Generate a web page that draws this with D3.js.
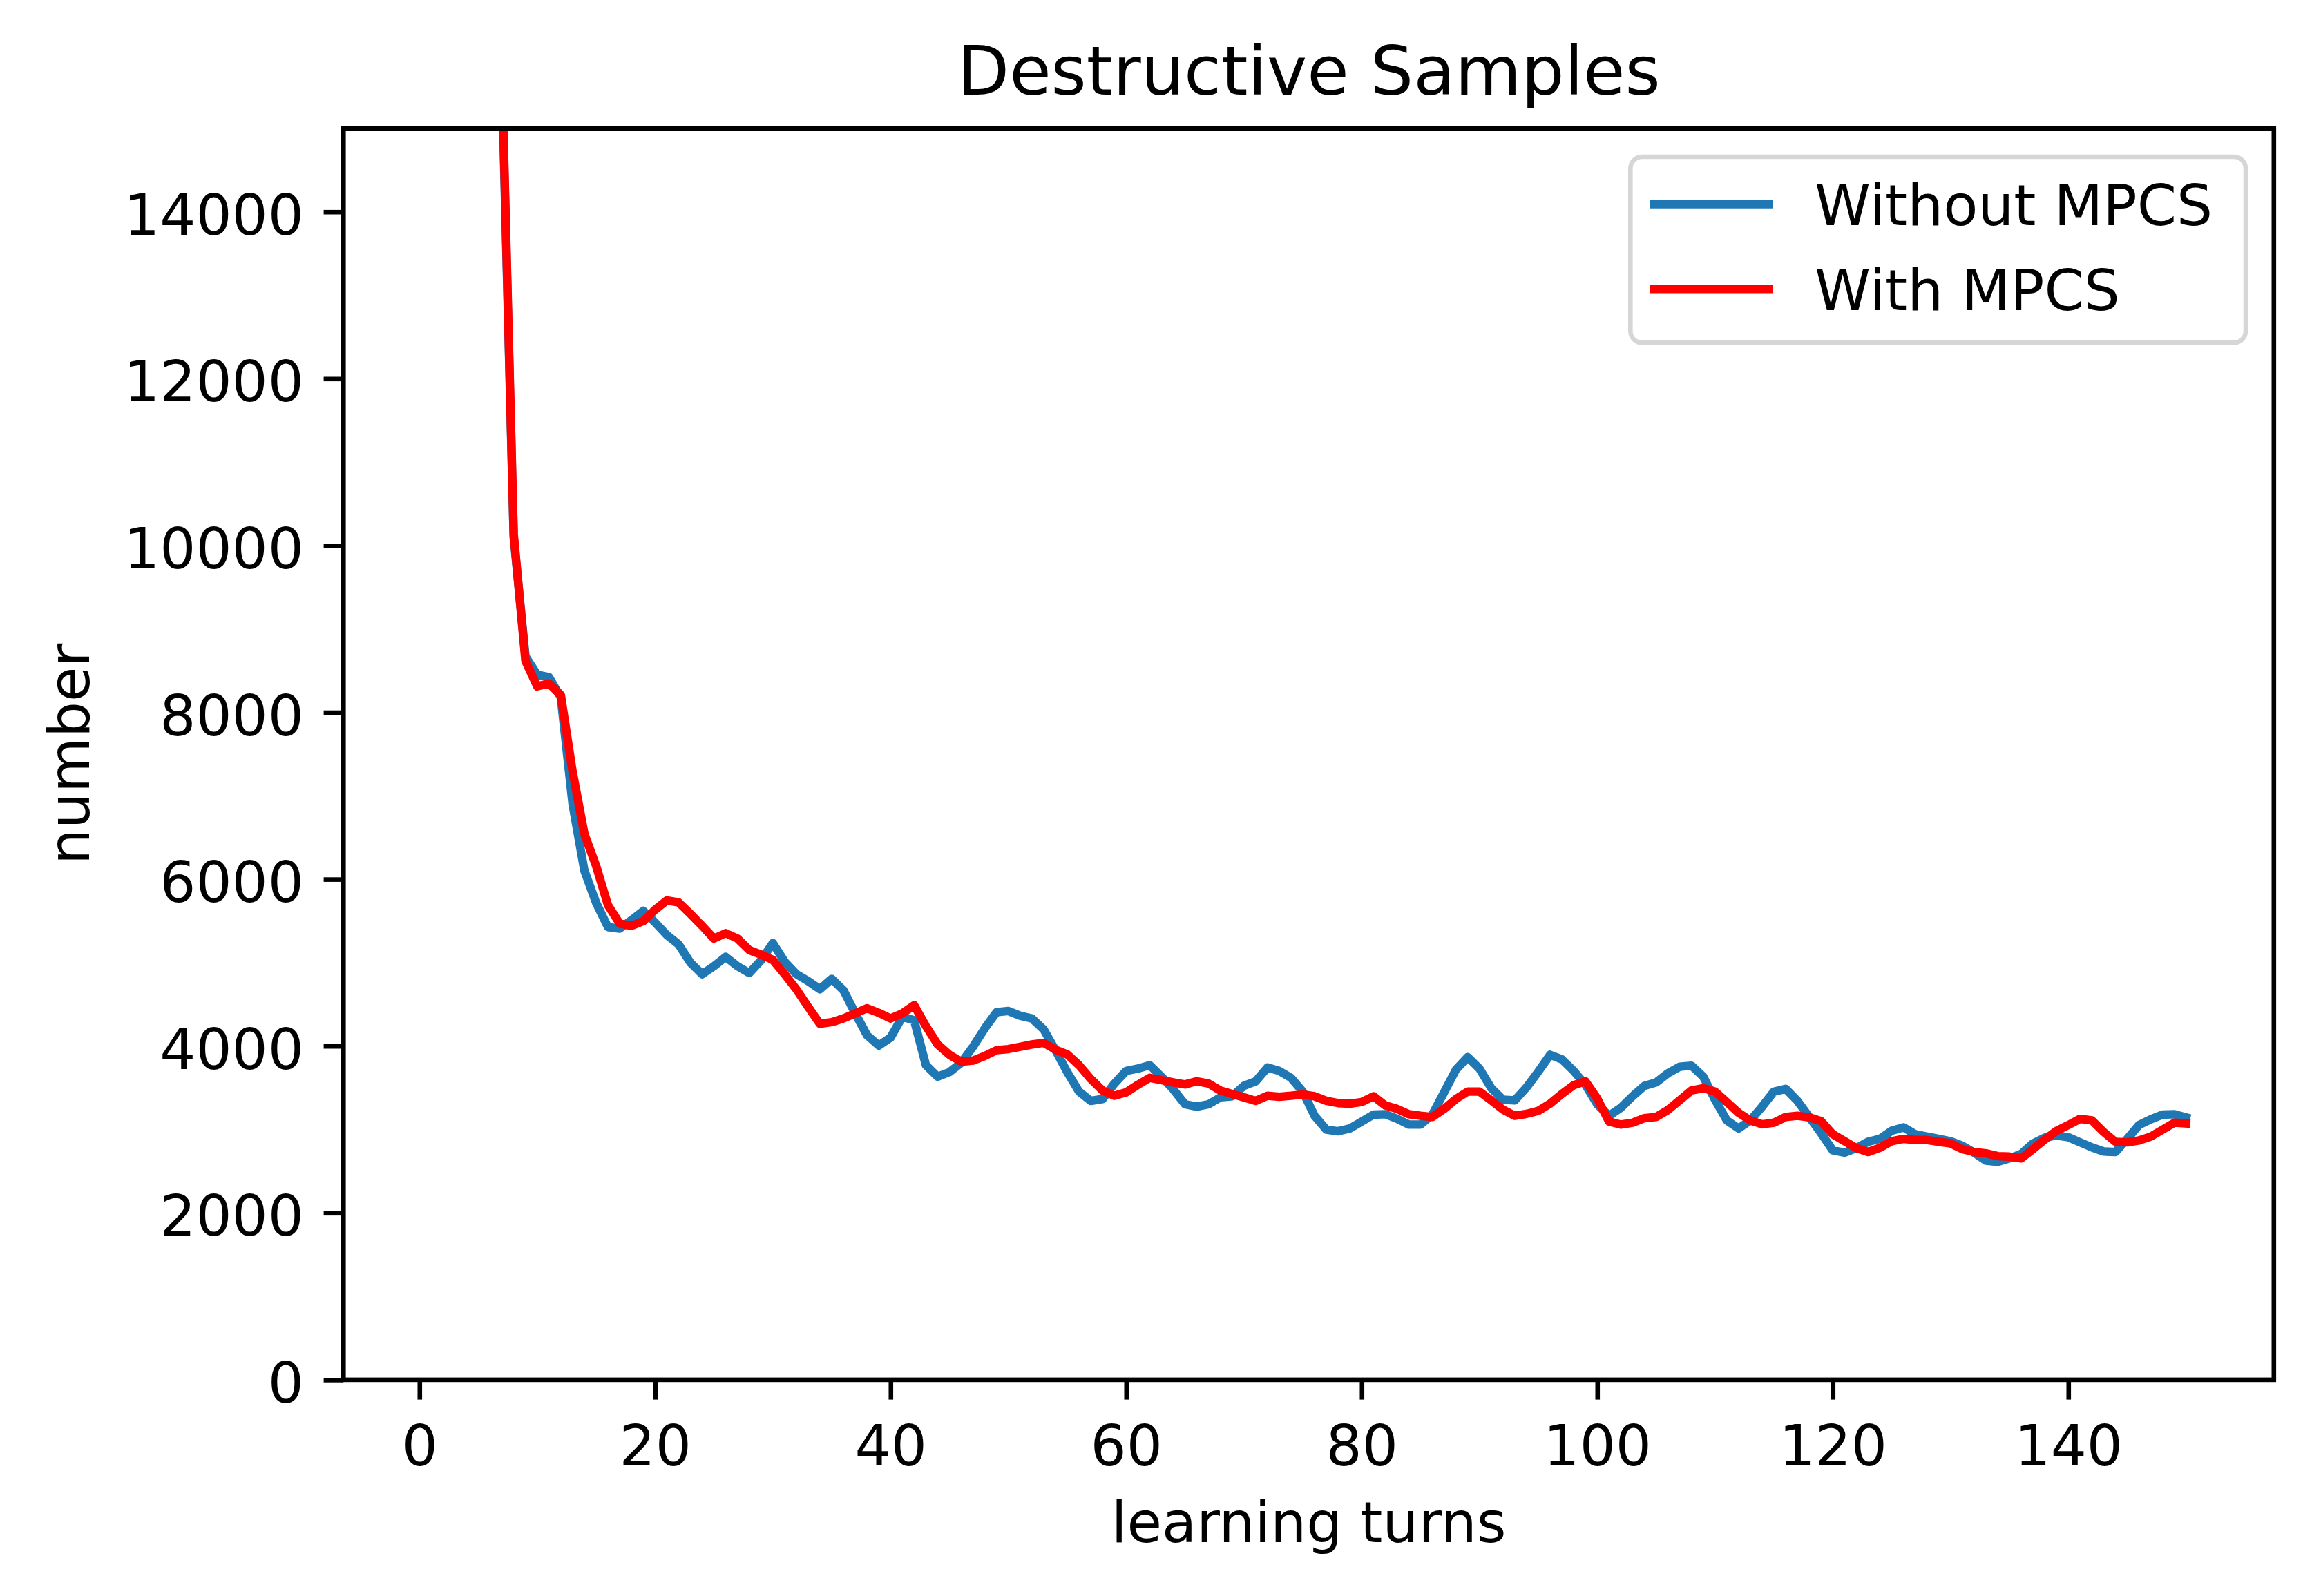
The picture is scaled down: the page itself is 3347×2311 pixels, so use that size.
<!DOCTYPE html>
<html>
<head>
<meta charset="utf-8">
<script src="https://cdn.jsdelivr.net/npm/d3@7"></script>
<style>
  html, body { margin: 0; padding: 0; background: #fff; }
  svg text { font-family: 'DejaVu Sans', sans-serif; fill: #000; }
</style>
</head>
<body>
<svg id="chart" width="3347" height="2311"></svg>
<script>
// learning turns 1..150
const turns = d3.range(1, 151);

// Without MPCS (first few turns are far above the visible range)
const withoutMPCS = [
  93000, 61000, 41000, 29500, 22500, 18200, 15600, 10100, 8670, 8450,
  8422, 8180, 6900, 6104, 5717, 5427, 5408, 5510, 5620, 5482,
  5331, 5220, 5000, 4862, 4958, 5069, 4958, 4875, 5027, 5234,
  5013, 4862, 4779, 4682, 4806, 4668, 4392, 4130, 4006, 4102,
  4351, 4309, 3771, 3633, 3688, 3799, 3992, 4213, 4406, 4420,
  4364, 4331, 4199, 3950, 3688, 3454, 3343, 3365, 3550, 3702,
  3730, 3771, 3633, 3481, 3302, 3274, 3302, 3385, 3398, 3523,
  3578, 3743, 3702, 3619, 3454, 3164, 2998, 2979, 3012, 3095,
  3178, 3183, 3128, 3059, 3059, 3178, 3445, 3716, 3868, 3730,
  3495, 3357, 3349, 3505, 3695, 3895, 3840, 3702, 3536, 3302,
  3164, 3260, 3398, 3523, 3564, 3674, 3752, 3765, 3633, 3357,
  3109, 3012, 3109, 3274, 3454, 3487, 3343, 3150, 2957, 2750,
  2722, 2777, 2853, 2888, 2984, 3026, 2943, 2915, 2888, 2860,
  2805, 2722, 2626, 2612, 2653, 2708, 2833, 2902, 2929, 2907,
  2846, 2786, 2736, 2730, 2888, 3053, 3122, 3178, 3183, 3144
];

// With MPCS
const withMPCS = [
  95000, 62000, 42000, 30000, 23000, 18500, 15700, 10140, 8615, 8312,
  8345, 8207, 7290, 6545, 6159, 5690, 5469, 5441, 5497, 5634,
  5745, 5723, 5585, 5441, 5289, 5353, 5289, 5151, 5096, 5033,
  4862, 4680, 4470, 4267, 4287, 4331, 4392, 4453, 4398, 4331,
  4392, 4489, 4240, 4019, 3895, 3812, 3826, 3881, 3950, 3964,
  3992, 4019, 4039, 3956, 3901, 3771, 3605, 3467, 3404, 3445,
  3536, 3619, 3592, 3564, 3540, 3578, 3550, 3467, 3426, 3385,
  3343, 3404, 3393, 3404, 3420, 3398, 3343, 3316, 3310, 3329,
  3398, 3288, 3247, 3183, 3164, 3150, 3247, 3365, 3454, 3454,
  3349, 3238, 3164, 3187, 3223, 3310, 3426, 3531, 3578, 3371,
  3095, 3059, 3081, 3136, 3150, 3233, 3349, 3467, 3495, 3454,
  3329, 3200, 3109, 3062, 3081, 3150, 3164, 3145, 3100, 2943,
  2860, 2777, 2730, 2780, 2860, 2888, 2874, 2874, 2852, 2833,
  2764, 2730, 2714, 2681, 2675, 2653, 2764, 2880, 2984, 3053,
  3128, 3108, 2970, 2852, 2846, 2868, 2915, 2998, 3081, 3073
];

const seriesNames = ['Without MPCS', 'With MPCS'];
const seriesColors = ['#1f77b4', '#ff0000'];
const xTicks = [0, 20, 40, 60, 80, 100, 120, 140];
const yTicks = [0, 2000, 4000, 6000, 8000, 10000, 12000, 14000];

// figure layout (matplotlib at ~590 dpi)
const axLeft = 497.3, axRight = 3291.8, axTop = 185.9, axBottom = 1997.9;
const fs = 82, titleFs = 98.3, lw = 12.3, spineW = 6.6, tickLen = 28.7, pad = 28.7;

const x = d3.scaleLinear().domain([-6.45, 157.45]).range([axLeft, axRight]);
const y = d3.scaleLinear().domain([0, 15000]).range([axBottom, axTop]);

const svg = d3.select('#chart');

svg.append('rect')
  .attr('width', 3347).attr('height', 2311).attr('fill', '#fff');

svg.append('clipPath').attr('id', 'plotClip')
  .append('rect')
  .attr('x', axLeft).attr('y', axTop)
  .attr('width', axRight - axLeft).attr('height', axBottom - axTop);

const line = d3.line()
  .x((d, i) => x(turns[i]))
  .y(d => y(d));

const plot = svg.append('g').attr('clip-path', 'url(#plotClip)');

[withoutMPCS, withMPCS].forEach((data, k) => {
  plot.append('path')
    .datum(data)
    .attr('d', line)
    .attr('fill', 'none')
    .attr('stroke', seriesColors[k])
    .attr('stroke-width', lw)
    .attr('stroke-linejoin', 'round')
    .attr('stroke-linecap', 'square');
});

// axes
const xAxis = svg.append('g')
  .attr('transform', `translate(0, ${axBottom})`)
  .call(d3.axisBottom(x).tickValues(xTicks).tickFormat(d3.format('d'))
    .tickSize(tickLen).tickSizeOuter(0).tickPadding(pad));
xAxis.select('.domain').remove();
xAxis.selectAll('.tick line').attr('stroke', '#000').attr('stroke-width', spineW);
xAxis.selectAll('.tick text')
  .attr('y', 123.8).attr('dy', 0)
  .style('font-size', fs + 'px')
  .style('font-family', "'DejaVu Sans', sans-serif")
  .attr('fill', '#000');

const yAxis = svg.append('g')
  .attr('transform', `translate(${axLeft}, 0)`)
  .call(d3.axisLeft(y).tickValues(yTicks).tickFormat(d3.format('d'))
    .tickSize(tickLen).tickSizeOuter(0).tickPadding(pad));
yAxis.select('.domain').remove();
yAxis.selectAll('.tick line').attr('stroke', '#000').attr('stroke-width', spineW);
yAxis.selectAll('.tick text')
  .attr('x', -(tickLen + pad)).attr('dy', 32.6)
  .style('font-size', fs + 'px')
  .style('font-family', "'DejaVu Sans', sans-serif")
  .attr('fill', '#000');

// spines
svg.append('rect')
  .attr('x', axLeft).attr('y', axTop)
  .attr('width', axRight - axLeft).attr('height', axBottom - axTop)
  .attr('fill', 'none')
  .attr('stroke', '#000')
  .attr('stroke-width', spineW)
  .attr('stroke-linecap', 'square');

// title and labels
svg.append('text')
  .attr('x', (axLeft + axRight) / 2).attr('y', 136.7)
  .attr('text-anchor', 'middle')
  .style('font-size', titleFs + 'px')
  .text('Destructive Samples');

svg.append('text')
  .attr('x', (axLeft + axRight) / 2).attr('y', 2233)
  .attr('text-anchor', 'middle')
  .style('font-size', fs + 'px')
  .text('learning turns');

svg.append('text')
  .attr('transform', `translate(128.5, ${(axTop + axBottom) / 2}) rotate(-90)`)
  .attr('text-anchor', 'middle')
  .style('font-size', fs + 'px')
  .text('number');

// legend
const legend = svg.append('g');
legend.append('rect')
  .attr('x', 2360.3).attr('y', 227)
  .attr('width', 3251 - 2360.3).attr('height', 496.3 - 227)
  .attr('rx', 17).attr('ry', 17)
  .attr('fill', '#fff')
  .attr('stroke', '#d6d6d6')
  .attr('stroke-width', spineW);

seriesNames.forEach((name, k) => {
  const cy = 295.5 + k * 122.8;
  legend.append('line')
    .attr('x1', 2394.4).attr('x2', 2560.7)
    .attr('y1', cy).attr('y2', cy)
    .attr('stroke', seriesColors[k])
    .attr('stroke-width', lw)
    .attr('stroke-linecap', 'square');
  legend.append('text')
    .attr('x', 2627).attr('y', cy + 30.5)
    .style('font-size', fs + 'px')
    .text(name);
});
</script>
</body>
</html>
